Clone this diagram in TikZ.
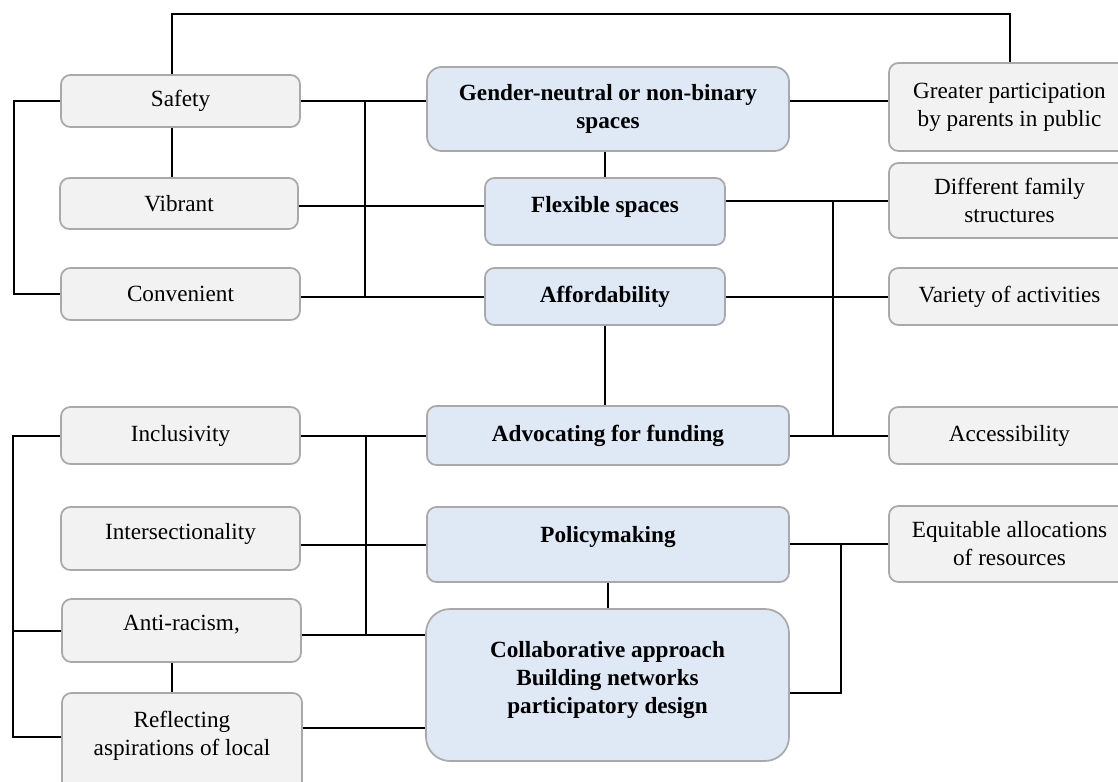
\documentclass[tikz,border=0pt]{standalone}
\usepackage{fontspec}
\setmainfont{Liberation Serif}
\usetikzlibrary{calc}
\definecolor{gfill}{HTML}{F2F2F2}
\definecolor{bfill}{HTML}{DEE9F5}
\definecolor{edgegrey}{HTML}{A9A9A9}
\begin{document}
\begin{tikzpicture}[x=0.75pt,y=-0.75pt,
  basebox/.style={draw=edgegrey, line width=1.3pt, rounded corners=7pt, inner sep=0pt, align=center},
  greybox/.style={basebox, fill=gfill, font=\fontsize{17.4}{21}\selectfont},
  bluebox/.style={basebox, fill=bfill, font=\fontsize{17.4}{21}\selectfont\bfseries},
  sz/.style 2 args={minimum width=#1*0.75pt, minimum height=#2*0.75pt},
  link/.style={line width=1.5pt, black}]
\useasboundingbox (0,0) rectangle (1118,782);
\clip (0,0) rectangle (1118,782);

% left column
\node[greybox, sz={239}{52}] (safety) at (180.5,101) {Safety};
\node[greybox, sz={238}{51}] (vibrant) at (179,203.5) {Vibrant};
\node[greybox, sz={239}{52}] (convenient) at (180.5,294) {Convenient};
\node[greybox, sz={239}{57}] (inclusivity) at (180.5,435.5) {Inclusivity};
\node[greybox, sz={239}{63}, text depth=10.5pt] (intersect) at (180.5,538.5) {Intersectionality};
\node[greybox, sz={239}{63}, text depth=11pt] (antiracism) at (181.5,630.5) {Anti-racism,};
\node[greybox, sz={240}{102}, text depth=15.8pt] (reflecting) at (182,744) {Reflecting\\aspirations of local};

% right column
\node[greybox, sz={241}{88}] (greater) at (1009.5,107) {Greater participation\\by parents in public};
\node[greybox, sz={241}{75}, text depth=1pt] (different) at (1009.5,200.5) {Different family\\structures};
\node[greybox, sz={241}{57}] (variety) at (1009.5,296.5) {Variety of activities};
\node[greybox, sz={241}{57}] (access) at (1009.5,435.5) {Accessibility};
\node[greybox, sz={241}{76}] (equitable) at (1009.5,544) {Equitable allocations\\of resources};

% centre column
\node[bluebox, sz={362}{84}, rounded corners=11pt] (gender) at (608,109) {Gender-neutral or non-binary\\spaces};
\node[bluebox, sz={240}{67}, text depth=11pt] (flexible) at (605,211.5) {Flexible spaces};
\node[bluebox, sz={240}{57}] (afford) at (605,296.5) {Affordability};
\node[bluebox, sz={362}{59}] (advocating) at (608,435.5) {Advocating for funding};
\node[bluebox, sz={362}{75}, text depth=15pt] (policy) at (608,544.5) {Policymaking};
\node[bluebox, sz={363}{152}, rounded corners=18pt, text depth=11.3pt] (collab) at (607.5,685) {Collaborative approach\\Building networks\\participatory design};

% helper coordinates
\coordinate (lx) at (172,0);
\coordinate (rx) at (1010,0);
\coordinate (topy) at (0,14);
\coordinate (b1) at (365,0);
\coordinate (b2) at (833,0);
\coordinate (b3) at (841,0);
\coordinate (b4) at (366,0);
\coordinate (lb1) at (13.5,0);
\coordinate (lb2) at (12.5,0);
\coordinate (vbe) at ([yshift=-2pt]vibrant.east);
\coordinate (arr) at ([yshift=-3pt]antiracism.east);
\coordinate (rfl) at ([yshift=12pt]reflecting.east);
\coordinate (rflw) at ([yshift=5pt]reflecting.west);
\coordinate (cle) at ([yshift=-6pt]collab.east);

% connectors: top half
\draw[link] (safety.north -| lx) |- (topy -| rx) -- (greater.north -| rx);
\draw[link] (safety.west) -- (safety.west -| lb1) |- (convenient.west);
\draw[link] (safety.south -| lx) -- (vibrant.north -| lx);
\draw[link] (safety.east) -- (safety.east -| gender.west);
\draw[link] (gender.east |- safety.east) -- (safety.east -| greater.west);
\draw[link] (safety.east -| b1) -- (afford.west -| b1);
\draw[link] (vbe) -- (vbe -| flexible.west);
\draw[link] (afford.west -| convenient.east) -- (afford.west);
\draw[link] (flexible.north) -- (flexible.north |- gender.south);
\draw[link] (afford.south) -- (afford.south |- advocating.north);
\draw[link] (different.west -| flexible.east) -- (different.west);
\draw[link] (afford.east) -- (variety.west);
\draw[link] (advocating.east) -- (access.west);
\draw[link] (different.west -| b2) -- (advocating.east -| b2);

% connectors: bottom half
\draw[link] (equitable.west -| policy.east) -- (equitable.west);
\draw[link] (equitable.west -| b3) |- (cle);
\draw[link] (policy.south) -- (policy.south |- collab.north);
\draw[link] (inclusivity.east) -- (inclusivity.east -| advocating.west);
\draw[link] (policy.west -| intersect.east) -- (policy.west);
\draw[link] (arr) -- (arr -| collab.west);
\draw[link] (rfl) -- (rfl -| collab.west);
\draw[link] (inclusivity.east -| b4) -- (arr -| b4);
\draw[link] (inclusivity.west) -- (inclusivity.west -| lb2) |- (rflw);
\draw[link] (antiracism.west) -- (antiracism.west -| lb2);
\draw[link] (antiracism.south -| lx) -- (reflecting.north -| lx);
\end{tikzpicture}
\end{document}
